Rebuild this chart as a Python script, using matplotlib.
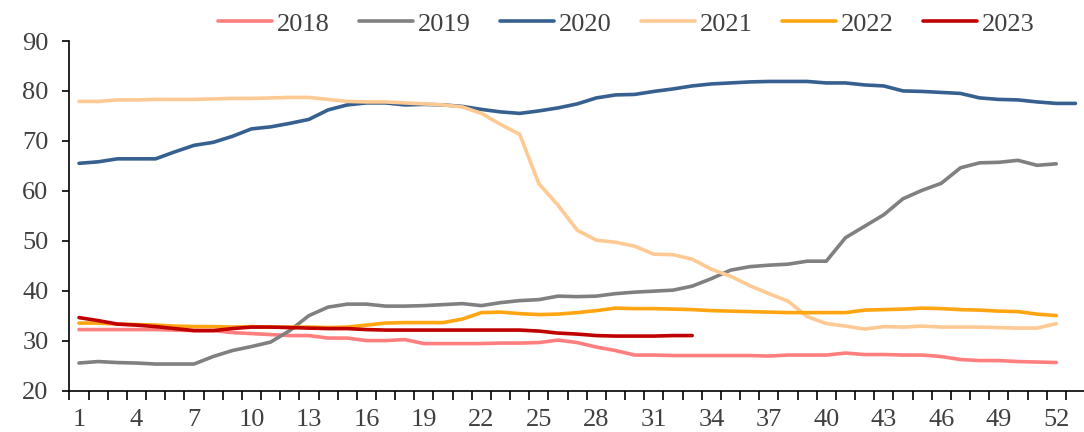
import matplotlib
matplotlib.use("Agg")
import matplotlib.pyplot as plt
from matplotlib.ticker import FixedLocator, NullFormatter

weeks_2018 = list(range(1, 53))
weeks_2023 = list(range(1, 34))
weeks_2020 = list(range(1, 54))

s2018 = [32.2, 32.2, 32.2, 32.2, 32.2, 32.1, 32.0, 32.0, 31.6, 31.4, 31.2, 31.0, 31.0,
         30.5, 30.5, 30.0, 30.0, 30.2, 29.4, 29.4, 29.4, 29.4, 29.5, 29.5, 29.6, 30.1,
         29.6, 28.7, 28.0, 27.1, 27.1, 27.0, 27.0, 27.0, 27.0, 27.0, 26.9, 27.1, 27.1,
         27.1, 27.5, 27.2, 27.2, 27.1, 27.1, 26.8, 26.2, 26.0, 26.0, 25.8, 25.7, 25.6]
s2019 = [25.5, 25.8, 25.6, 25.5, 25.3, 25.3, 25.3, 26.8, 28.0, 28.8, 29.7, 32.0, 35.0,
         36.7, 37.3, 37.3, 36.9, 36.9, 37.0, 37.2, 37.4, 37.0, 37.6, 38.0, 38.2, 38.9,
         38.8, 38.9, 39.4, 39.7, 39.9, 40.1, 40.9, 42.4, 44.1, 44.8, 45.1, 45.3, 45.9,
         45.9, 50.6, 52.9, 55.2, 58.4, 60.1, 61.5, 64.6, 65.6, 65.7, 66.1, 65.1, 65.4]
s2020 = [65.5, 65.8, 66.4, 66.4, 66.4, 67.8, 69.1, 69.7, 70.9, 72.4, 72.8, 73.5, 74.3,
         76.2, 77.2, 77.6, 77.6, 77.2, 77.3, 77.2, 76.9, 76.3, 75.8, 75.5, 76.0, 76.6,
         77.4, 78.6, 79.2, 79.3, 79.9, 80.4, 81.0, 81.4, 81.6, 81.8, 81.9, 81.9, 81.9,
         81.6, 81.6, 81.2, 81.0, 80.0, 79.9, 79.7, 79.5, 78.6, 78.3, 78.2, 77.8, 77.5, 77.5]
s2021 = [77.9, 77.9, 78.2, 78.2, 78.3, 78.3, 78.3, 78.4, 78.5, 78.5, 78.6, 78.7, 78.7,
         78.3, 77.9, 77.8, 77.8, 77.6, 77.4, 77.2, 76.8, 75.5, 73.3, 71.3, 61.4, 57.1,
         52.1, 50.1, 49.7, 48.9, 47.3, 47.2, 46.3, 44.3, 42.9, 41.0, 39.4, 37.9, 34.8,
         33.4, 32.9, 32.3, 32.8, 32.7, 32.9, 32.7, 32.7, 32.7, 32.6, 32.5, 32.5, 33.4]
s2022 = [33.5, 33.5, 33.3, 33.2, 33.1, 32.9, 32.8, 32.8, 32.7, 32.8, 32.7, 32.7, 32.7,
         32.6, 32.7, 33.1, 33.5, 33.6, 33.6, 33.6, 34.3, 35.6, 35.7, 35.4, 35.2, 35.3,
         35.6, 36.0, 36.5, 36.4, 36.4, 36.3, 36.2, 36.0, 35.9, 35.8, 35.7, 35.6, 35.6,
         35.6, 35.6, 36.1, 36.2, 36.3, 36.5, 36.4, 36.2, 36.1, 35.9, 35.8, 35.3, 35.0]
s2023 = [34.6, 34.0, 33.3, 33.1, 32.8, 32.4, 32.0, 32.0, 32.4, 32.7, 32.7, 32.6, 32.5,
         32.4, 32.4, 32.2, 32.1, 32.1, 32.1, 32.1, 32.1, 32.1, 32.1, 32.1, 31.9, 31.5,
         31.3, 31.0, 30.9, 30.9, 30.9, 31.0, 31.0]

labels = ["2018", "2019", "2020", "2021", "2022", "2023"]
colors = ["#FF7F7F", "#808080", "#36608F", "#FFC993", "#FFA511", "#C00000"]
zorders = [2, 4, 3, 5, 6, 7]
xs = [weeks_2018, weeks_2018, weeks_2020, weeks_2018, weeks_2018, weeks_2023]
ys = [s2018, s2019, s2020, s2021, s2022, s2023]

tick_labels_x = list(range(1, 53, 3))
yticks = [20, 30, 40, 50, 60, 70, 80, 90]

plt.rcParams['font.family'] = ['Liberation Serif', 'DejaVu Serif']
txt_color = "#404040"
fs = 19

fig = plt.figure(figsize=(10.84, 4.32), dpi=100)
ax = fig.add_axes([69.4 / 1084, 41.5 / 432, (1085 - 69.4) / 1084, (390.5 - 41) / 432])

handles = []
for x, y, lab, c, z in zip(xs, ys, labels, colors, zorders):
    h, = ax.plot(x, y, color=c, lw=2.6, label=lab, zorder=z, solid_capstyle='round')
    handles.append(h)

ax.set_xlim(0.5, 53.5)
ax.set_ylim(20, 90)
ax.set_yticks(yticks)
ax.xaxis.set_major_locator(FixedLocator(tick_labels_x))
ax.xaxis.set_minor_locator(FixedLocator([i + 0.5 for i in range(0, 53)]))
ax.xaxis.set_minor_formatter(NullFormatter())
ax.set_xticklabels([str(v) for v in tick_labels_x])

for s in ["top", "right"]:
    ax.spines[s].set_visible(False)
for s in ["left", "bottom"]:
    ax.spines[s].set_linewidth(1.2)
    ax.spines[s].set_color("black")

ax.tick_params(axis='x', which='major', length=0, pad=13, labelsize=fs, labelcolor=txt_color)
ax.tick_params(axis='x', which='minor', length=6.5, width=1.2, direction='out')
ax.tick_params(axis='y', which='major', length=5, width=1.2, direction='out', pad=10,
               labelsize=fs, labelcolor=txt_color)

leg = fig.legend(handles=handles, labels=labels, loc='center', ncol=6,
                 bbox_to_anchor=(626 / 1084, 1 - 24 / 432), frameon=False,
                 fontsize=fs, handlelength=2.07, handletextpad=0.17, columnspacing=1.1,
                 borderaxespad=0, borderpad=0)
for t in leg.get_texts():
    t.set_color(txt_color)

fig.savefig("out.png", dpi=100)
